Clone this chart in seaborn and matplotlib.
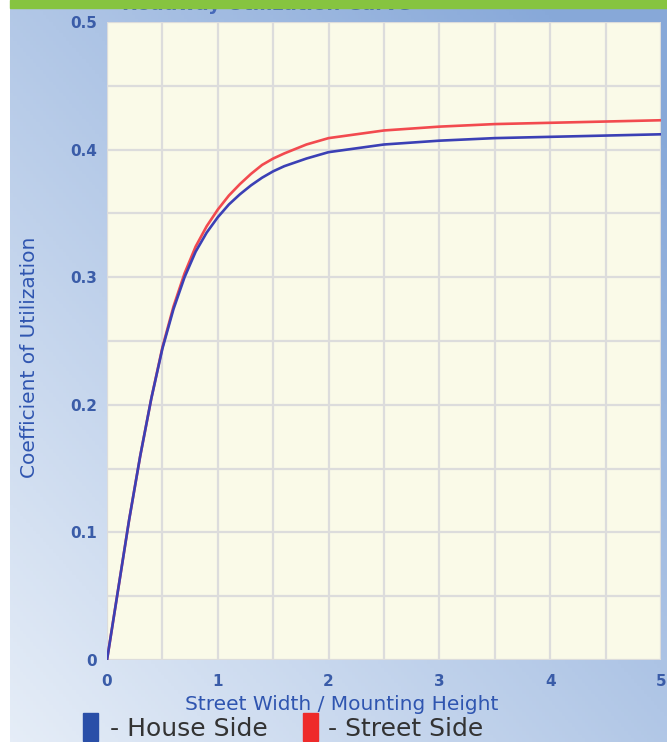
import numpy as np
import pandas as pd
import matplotlib.pyplot as plt
import matplotlib.patches as mpatches
import seaborn as sns

# values
ratio = [0, 0.1, 0.2, 0.3, 0.4, 0.5, 0.6, 0.7, 0.8, 0.9, 1.0, 1.1, 1.2, 1.3,
         1.4, 1.5, 1.6, 1.8, 2.0, 2.25, 2.5, 3.0, 3.5, 4.0, 4.5, 5.0]
house_side = [0, 0.055, 0.11, 0.16, 0.205, 0.244, 0.275, 0.300, 0.320, 0.335,
              0.347, 0.357, 0.365, 0.372, 0.378, 0.383, 0.387, 0.393, 0.398,
              0.401, 0.404, 0.407, 0.409, 0.410, 0.411, 0.412]
street_side = [0, 0.055, 0.11, 0.16, 0.205, 0.245, 0.277, 0.303, 0.324, 0.340,
               0.353, 0.364, 0.373, 0.381, 0.388, 0.393, 0.397, 0.404, 0.409,
               0.412, 0.415, 0.418, 0.420, 0.421, 0.422, 0.423]
x_ticks = [0, 1, 2, 3, 4, 5]
y_ticks = [0, 0.1, 0.2, 0.3, 0.4, 0.5]
y_labels = ["0", "0.1", "0.2", "0.3", "0.4", "0.5"]

df = pd.DataFrame({
    "ratio": ratio * 2,
    "cu": house_side + street_side,
    "side": ["House Side"] * len(ratio) + ["Street Side"] * len(ratio),
})

sns.set_theme(style="white")
plt.rcParams['font.family'] = ['DejaVu Sans']

W, H = 667, 742
fig = plt.figure(figsize=(W / 100, H / 100), dpi=100)

# gradient panel background
bg = fig.add_axes([10 / W, 0, 1 - 10 / W, 1])
bg.set_axis_off()
gx, gy = np.meshgrid(np.linspace(0, 1, 200), np.linspace(0, 1, 200))
t = np.clip(0.55 * gx + 0.55 * (1 - gy), 0, 1)
c0 = np.array([0.90, 0.93, 0.97])
c1 = np.array([0.53, 0.66, 0.85])
img = c0[None, None, :] * (1 - t[..., None]) + c1[None, None, :] * t[..., None]
bg.imshow(img, aspect="auto", extent=[0, 1, 0, 1], origin="upper")
bg.set_xlim(0, 1)
bg.set_ylim(0, 1)

# title mostly hidden under the green bar
fig.text(267 / W, 1 - 10 / H, "Roadway Utilization Curve", ha="center", va="baseline",
         fontsize=14, fontweight="bold", color="#2f55b0", alpha=0.8)
fig.patches.append(mpatches.Rectangle((10 / W, 1 - 8 / H), 1, 8 / H,
                                      transform=fig.transFigure,
                                      color="#86c440", zorder=5))

ax = fig.add_axes([107 / W, 1 - 660 / H, (661 - 107) / W, (660 - 22) / H])
ax.set_facecolor("#fafae8")
ax.set_xticks(np.arange(0, 5.01, 0.5), minor=True)
ax.set_yticks(np.arange(0, 0.501, 0.05), minor=True)
ax.grid(True, which="both", color="#dcdcdc", linewidth=1.6)
ax.set_axisbelow(True)

sns.lineplot(data=df, x="ratio", y="cu", hue="side",
             palette={"House Side": "#3b40b5", "Street Side": "#f24a4f"},
             hue_order=["Street Side", "House Side"],
             linewidth=1.9, ax=ax, legend=False, zorder=3)

ax.set_xlim(0, 5)
ax.set_ylim(0, 0.5)
ax.set_xticks(x_ticks)
ax.set_yticks(y_ticks)
ax.set_yticklabels(y_labels)
ax.tick_params(which="both", length=0, labelsize=11, labelcolor="#3a5ca8")
ax.tick_params(axis="y", pad=7)
ax.tick_params(axis="x", pad=10)
for lab in ax.get_xticklabels() + ax.get_yticklabels():
    lab.set_fontweight("bold")
for s in ax.spines.values():
    s.set_visible(False)

ax.set_xlabel("Street Width / Mounting Height", fontsize=14.5, color="#2f55b0")
ax.set_ylabel("Coefficient of Utilization", fontsize=14.5, color="#2f55b0")
ax.xaxis.set_label_coords((342 - 107) / (661 - 107), -44 / (660 - 22))
ax.xaxis.label.set_va("center")
ax.yaxis.set_label_coords(-77 / (661 - 107), (660 - 357) / (660 - 22))
ax.yaxis.label.set_va("center")

# legend row at the bottom
fig.patches.append(mpatches.Rectangle((83 / W, 1 - 741 / H), 15 / W, 28 / H,
                                      transform=fig.transFigure, color="#2a4fa8"))
fig.patches.append(mpatches.Rectangle((303 / W, 1 - 741 / H), 15 / W, 28 / H,
                                      transform=fig.transFigure, color="#ee2a2a"))
fig.text(110 / W, 1 - 729 / H, "- House Side", fontsize=18, color="#333333", va="center")
fig.text(328 / W, 1 - 729 / H, "- Street Side", fontsize=18, color="#333333", va="center")

fig.savefig("out.png", dpi=100)
